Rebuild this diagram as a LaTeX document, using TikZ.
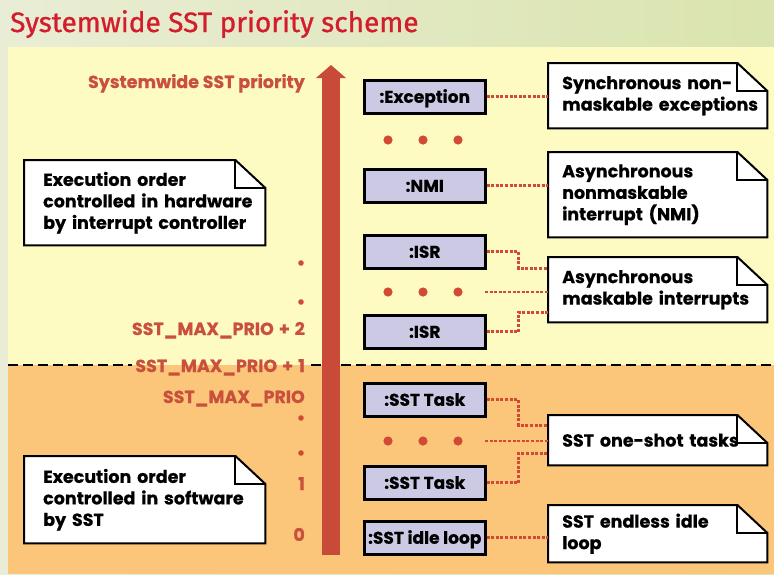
\documentclass[tikz,border=0pt]{standalone}
\usepackage{fontspec}
\setmainfont{Poppins}[BoldFeatures={FakeBold=0.5}]
\newfontfamily\titlefont{Fira Sans}[FakeBold=0.9]
\usetikzlibrary{calc}
\definecolor{bgyellow}{HTML}{FEFBC2}
\definecolor{bgorange}{HTML}{FBC67A}
\definecolor{titleL}{HTML}{E9EDD5}
\definecolor{titleR}{HTML}{DAE4AE}
\definecolor{prio}{HTML}{C9503C}
\definecolor{arrowred}{HTML}{C94A36}
\definecolor{titlered}{HTML}{D41C2C}
\definecolor{boxfill}{HTML}{CCC9E5}
\definecolor{conn}{HTML}{D24A36}
\pgfdeclarelayer{back}
\pgfdeclarelayer{notes}
\pgfsetlayers{back,notes,main}
\newcommand\dogear[1]{%
  \draw[noteline, fill=white] (#1.north west) -- ([xshift=-30pt]#1.north east)
    -- ([yshift=-28pt]#1.north east) -- (#1.south east) -- (#1.south west) -- cycle;
  \draw[noteline] ([xshift=-30pt]#1.north east) |- ([yshift=-28pt]#1.north east);}
\newcommand\psp{\hspace{5pt}}
\begin{document}
\begin{tikzpicture}[x=1pt,y=-1pt,
  every node/.style={font=\bfseries\fontsize{17.5}{21.5}\selectfont, inner sep=0pt},
  objbox/.style={draw=black, line width=2.5pt, fill=boxfill, minimum width=121pt,
    minimum height=33pt, anchor=north west, text height=12pt, text depth=0pt,
    font=\bfseries\fontsize{17}{20}\selectfont},
  notebox/.style={anchor=north west, text width=219pt, inner xsep=0pt,
    execute at begin node={\raggedright\leftskip=14pt\rightskip=0pt plus 1fil\hyphenpenalty=10000\relax}},
  leftnote/.style={anchor=north west, text width=241pt, inner xsep=0pt,
    execute at begin node={\raggedright\leftskip=19pt\rightskip=0pt plus 1fil\hyphenpenalty=10000\relax}},
  noteline/.style={draw=black, line width=2pt, line join=miter},
  prioLabel/.style={anchor=east, text=prio, text height=12pt, text depth=0pt},
  conn/.style={draw=conn, line width=2.8pt, dash pattern=on 3pt off 1.6pt},
  dot/.style={fill=conn},
]
\useasboundingbox (0,0) rectangle (774,574);
% backgrounds
\begin{pgfonlayer}{back}
  \shade[left color=titleL, right color=titleR] (0,0) rectangle (774,574);
  \fill[bgyellow] (8,47) rectangle (774,365);
  \fill[bgorange] (8,365) rectangle (774,574);
\end{pgfonlayer}
% title
\node[anchor=base west, font=\titlefont\fontsize{28}{30}\selectfont, text=titlered] (title) at (10,32) {Systemwide SST priority scheme};

% priority labels
\node[prioLabel] (lsys) at (305,82) {Systemwide SST priority};
\node[prioLabel] (lp2) at (305,329) {SST\_MAX\_PRIO\psp+\psp2};
\node[prioLabel] (lp1) at (305,366) {SST\_MAX\_PRIO\psp+\psp1};
\node[prioLabel] (lp0) at (305,397) {SST\_MAX\_PRIO};
\node[prioLabel] (l1) at (305,484) {1};
\node[prioLabel] (l0) at (305,535) {0};
\fill[dot] (301,263) circle (2.8);
\fill[dot] (301,302) circle (2.8);
\fill[dot] (301,418) circle (2.8);
\fill[dot] (301,453) circle (2.8);

% dashed separator
\coordinate (sepL) at (8,365);
\coordinate (sepR) at (774,365);
\draw[black, line width=2.8pt, dash pattern=on 10pt off 5pt] (sepL) -- ([xshift=-3pt]sepL -| lp1.west);
\draw[black, line width=2.8pt, dash pattern=on 10pt off 5pt] ([xshift=6pt]sepR -| lp1.east) -- (sepR);

% priority arrow
\fill[arrowred] (322,77) rectangle (340,555);
\fill[arrowred] (316,78) -- (331,65) -- (346,78) -- cycle;

% object boxes
\node[objbox] (ex) at (363,79) {:Exception};
\node[objbox] (nmi) at (363,168) {:NMI};
\node[objbox] (isr1) at (363,234) {:ISR};
\node[objbox] (isr2) at (363,314) {:ISR};
\node[objbox] (t1) at (363,382) {:SST Task};
\node[objbox] (t2) at (363,465) {:SST Task};
\node[objbox] (idle) at (363,520) {:SST idle loop};

% dots rows
\foreach \yy in {140,292,441} {
  \foreach \xx in {388,423,458} { \fill[dot] (\xx,\yy) circle (4.6); }
}

% notes
\node[notebox, minimum height=65pt] (n1) at (548,63) {Synchronous non-\\maskable exceptions};
\node[notebox, minimum height=85pt] (n2) at (548,152) {Asynchronous\\nonmaskable\\interrupt (NMI)};
\node[notebox, minimum height=65pt] (n3) at (548,257) {Asynchronous\\maskable interrupts};
\node[notebox, minimum height=50pt] (n4) at (548,415) {SST one-shot tasks};
\node[notebox, minimum height=57pt] (n5) at (548,505) {SST endless idle\\loop};
\node[leftnote, minimum height=85pt] (nA) at (24,160) {Execution order\\controlled in hardware\\by interrupt controller};
\node[leftnote, minimum height=87pt] (nB) at (24,456) {Execution order\\controlled in software\\by SST};
\begin{pgfonlayer}{notes}
  \dogear{n1}\dogear{n2}\dogear{n3}\dogear{n4}\dogear{n5}\dogear{nA}\dogear{nB}
\end{pgfonlayer}

% connectors
\coordinate (m3) at (485,292);
\coordinate (m4) at (485,441);
\draw[conn] (ex.east) -- (ex.east -| n1.west);
\draw[conn] (nmi.east) -- (nmi.east -| n2.west);
\draw[conn] (isr1.east) -- ++(32,0) |- ($(n3.west)+(0,-21.5)$);
\draw[conn] (m3) -- (m3 -| n3.west);
\draw[conn] (isr2.east) -- ++(32,0) |- ($(n3.west)+(0,22.5)$);
\draw[conn] (t1.east) -- ++(32,0) |- ($(n4.west)+(0,-15)$);
\draw[conn] (m4) -- (m4 -| n4.west);
\draw[conn] (t2.east) -- ++(32,0) |- ($(n4.west)+(0,13)$);
\draw[conn] (idle.east) -- (idle.east -| n5.west);
\end{tikzpicture}
\end{document}
